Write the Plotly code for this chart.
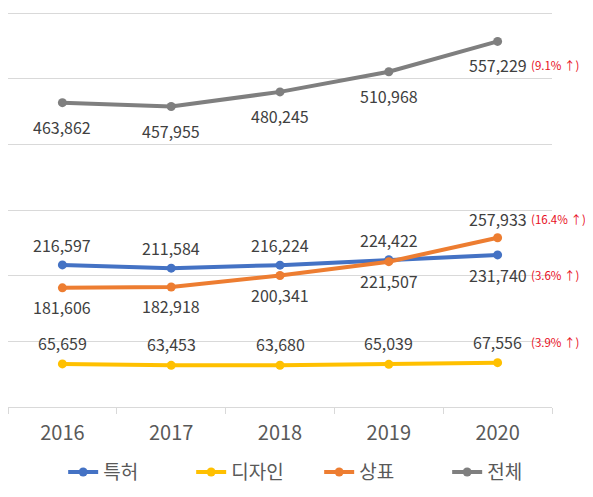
import plotly.graph_objs as go

# 연도별 출원 건수
years = ["2016", "2017", "2018", "2019", "2020"]
patent = [216597, 211584, 216224, 224422, 231740]     # 특허
design = [65659, 63453, 63680, 65039, 67556]          # 디자인
trademark = [181606, 182918, 200341, 221507, 257933]  # 상표
total = [463862, 457955, 480245, 510968, 557229]      # 전체

# 전년 대비 증가율 (2020)
growth = {"특허": "(3.6% ↑)", "디자인": "(3.9% ↑)", "상표": "(16.4% ↑)", "전체": "(9.1% ↑)"}

FONT = "Malgun Gothic, Noto Sans CJK KR, sans-serif"

# name, values, colour, label side per point, label offset
series = [
    ("특허", patent, "#4472C4", ["up", "up", "up", "up", "down"], 20),
    ("디자인", design, "#FFC000", ["up"] * 5, 21),
    ("상표", trademark, "#ED7D31", ["down", "down", "down", "down", "up"], 19),
    ("전체", total, "#7F7F7F", ["down"] * 5, 24),
]

fig = go.Figure()
annotations = []
for name, vals, color, sides, off in series:
    fig.add_trace(go.Scatter(
        x=years, y=vals, name=name, mode="lines+markers",
        line=dict(color=color, width=4),
        marker=dict(color=color, size=9),
    ))
    # category axis: annotations need the category index, "2016" would be read as a number
    for i, (v, side) in enumerate(zip(vals, sides)):
        shift = off if side == "up" else -off
        annotations.append(dict(
            x=i, y=v, xref="x", yref="y", text=f"{v:,}", showarrow=False,
            yshift=shift, font=dict(family=FONT, size=16, color="#404040"),
        ))
    # 증가율 표시 (마지막 연도 라벨 오른쪽)
    shift = off if sides[-1] == "up" else -off
    annotations.append(dict(
        x=len(vals) - 1, y=vals[-1], xref="x", yref="y", text=growth[name],
        showarrow=False, xanchor="left", xshift=31, yshift=shift,
        font=dict(family=FONT, size=11.5, color="#E8101E"),
    ))

# page body has an 8px margin, so the figure is a bit smaller than the window
fig.update_layout(
    width=585, height=489,
    margin=dict(l=0, r=41, t=4, b=90),
    paper_bgcolor="white", plot_bgcolor="white",
    font=dict(family=FONT, color="#595959"),
    annotations=annotations,
    showlegend=True,
    legend=dict(orientation="h", x=0.572, xanchor="center", y=-0.165,
                yanchor="middle", font=dict(size=19, color="#595959"),
                entrywidth=83, entrywidthmode="pixels"),
)
fig.update_xaxes(
    type="category", range=[-0.5, 4.5], showgrid=False,
    showline=True, linecolor="#D9D9D9", linewidth=1,
    ticks="outside", tickson="boundaries", ticklen=6, tickcolor="#D9D9D9",
    tickfont=dict(size=20, color="#595959"), ticklabelstandoff=8,
)
# a little headroom so the 600,000 gridline is not dropped at the edge
fig.update_yaxes(
    range=[0, 602000], dtick=100000, showticklabels=False,
    showgrid=True, gridcolor="#D9D9D9", gridwidth=1, zeroline=False,
)

fig.write_html("out.html")
